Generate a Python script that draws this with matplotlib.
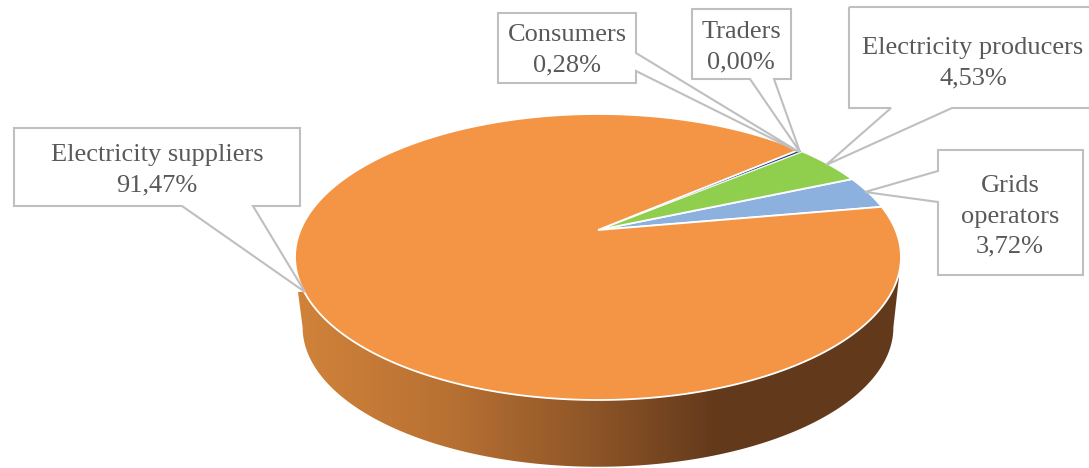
import numpy as np
import matplotlib
matplotlib.use("Agg")
import matplotlib.pyplot as plt
from matplotlib.colors import LinearSegmentedColormap
from matplotlib.patches import Polygon

# ---- data (counter-clockwise from the start angle) ----
names = ["Grids\noperators", "Electricity producers", "Traders", "Consumers", "Electricity suppliers"]
values = [3.72, 4.53, 0.00, 0.28, 91.47]
value_labels = ["3,72%", "4,53%", "0,00%", "0,28%", "91,47%"]
colors = ["#8CB1DF", "#90CF4E", "#7F7F7F", "#1F3F7F", "#F39544"]

# ---- geometry of the perspective pie ----
START = 10.0
CX, CY = 598.0, 230.0
A, B, P = 297.5, 137.9, 0.1888
DEPTH_Y, SCALE = 71.0, 0.975
WALL_L, WALL_R = (298, 292), (899, 277)


def project(deg, scale=1.0, dy=0.0, r=1.0):
    t = np.radians(deg)
    X, Y = r * np.cos(t), r * np.sin(t)
    w = 1 + P * Y
    return CX + scale * A * X / w, CY + dy - scale * B * Y / w


fig = plt.figure(figsize=(10.89, 4.68), dpi=100)
ax = fig.add_axes([0, 0, 1, 1])

# side wall with a horizontal gradient
lat = np.degrees(np.arcsin(P))
t_bot = np.linspace(180 + lat, 360 - lat, 240)
bx, by = project(t_bot, SCALE, DEPTH_Y)
wall_xy = np.vstack([[WALL_L], np.column_stack([bx, by]), [WALL_R]])
cmap = LinearSegmentedColormap.from_list(
    "wall",
    [(0.0, "#D08239"), (0.25, "#B87133"), (0.50, "#8C5427"), (0.70, "#63391B"), (1.0, "#63391B")],
)
im = ax.imshow(np.linspace(0, 1, 64)[None, :], extent=(295, 901, 470, 270), cmap=cmap,
               aspect="auto", zorder=1, interpolation="bilinear")
im.set_clip_path(Polygon(wall_xy, closed=True, transform=ax.transData))

# top face wedges
edges = START + np.concatenate([[0], np.cumsum(values)]) * 3.6
for i, (v, c) in enumerate(zip(values, colors)):
    if v <= 0:
        continue
    tt = np.linspace(edges[i], edges[i + 1], max(3, int(v * 8)))
    px, py = project(tt)
    ax.add_patch(Polygon(np.vstack([[CX, CY], np.column_stack([px, py])]), closed=True,
                         facecolor=c, edgecolor="white", lw=1.3 if v > 1 else 0.5, zorder=2))

# callouts
GRAY = "#BFBFBF"
callouts = [
    [(14, 128), (300, 128), (300, 206), (253, 206), (305, 292), (182, 206), (14, 206)],
    [(498, 13), (636, 13), (636, 53), (799, 152), (636, 71), (636, 83), (498, 83)],
    [(692, 9), (791, 9), (791, 79), (774, 79), (800, 152), (750, 79), (692, 79)],
    [(849, 7), (1095, 7), (1095, 108), (952, 108), (826, 165), (891, 108), (849, 108)],
    [(938, 150), (1083, 150), (1083, 275), (938, 275), (938, 202), (865, 192), (938, 171)],
]
for pts in callouts:
    ax.add_patch(Polygon(pts, closed=True, facecolor="none", edgecolor=GRAY, lw=1.5,
                         joinstyle="miter", zorder=3))

text_pos = {4: (157, 170.5), 3: (567, 50.5), 2: (741, 47.5), 1: (973, 63.5), 0: (1010, 216.5)}
for i, (x, y) in text_pos.items():
    ax.text(x, y, names[i] + "\n" + value_labels[i], ha="center", va="center",
            family="Liberation Serif", fontsize=19, color="#595959",
            linespacing=1.48, zorder=4)

ax.set_xlim(0, 1089)
ax.set_ylim(468, 0)
ax.axis("off")
fig.savefig("out.png", dpi=100)
